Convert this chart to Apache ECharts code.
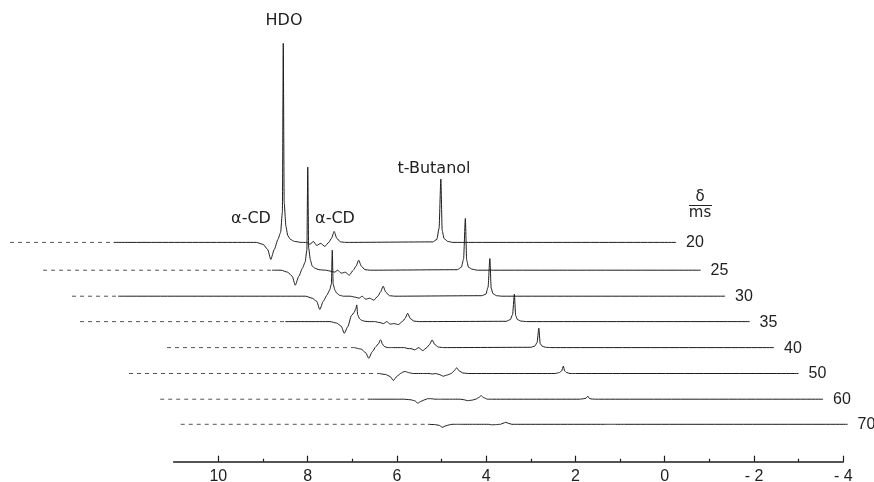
<!DOCTYPE html>
<html>
<head>
<meta charset="utf-8">
<script src="https://cdn.jsdelivr.net/npm/echarts@6/dist/echarts.min.js"></script>
<style>
  html, body { margin: 0; padding: 0; background: #ffffff; }
  #chart { width: 874px; height: 482px; }
</style>
</head>
<body>
<div id="chart"></div>
<script>
// Delay times (ms) of the stacked 1H spectra, front row last
const delays = ['20', '25', '30', '35', '40', '50', '60', '70'];

// Chemical shift (ppm) where each recorded trace begins
const startPpm = [10.92, 10.73, 10.63, 11.0, 9.6, 11.0, 10.85, 10.94];

// Chemical shift sample points (ppm) shared by all traces
const ppm = [5.40, 5.25, 5.15, 5.08, 5.00, 4.92, 4.86, 4.82, 4.80, 4.78,
             4.74, 4.70, 4.64, 4.55, 4.40, 4.28, 4.20, 4.13, 4.05, 3.96,
             3.87, 3.78, 3.72, 3.66, 3.60, 3.52, 3.40,
             1.45, 1.36, 1.31, 1.27, 1.24, 1.20, 1.12, 1.00,
             -4.0];

// Signal intensity (arbitrary units) at the sample points, one list per delay
const int20 = [0, -2, -7, -17, -7, 3, 10, 30, 199, 40,
               16, 7, 3, 1, 0, 0, -2, 1, -3, -1,
               -4, 0, 4, 11, 4, 0.5, 0,
               0.5, 3, 14, 63.4, 12, 4, 1, 0,
               0];
const int25 = [0, -2, -6, -15, -6, 2, 8, 20, 103, 22,
               10, 4, 2, 0.5, 0, -1, -2, 0, -3, -2,
               -5, 0, 4, 10, 4, 0.5, 0,
               0.5, 3, 11, 51.7, 10, 3, 1, 0,
               0];
const int30 = [0, -2, -5, -13.3, -5, 1, 6, 12, 46, 12,
               6, 3, 1, 0, 0, -1, -2, 0, -3, -2,
               -4, 0, 4, 10, 4, 0.5, 0,
               0.5, 2, 9, 37.7, 8, 2.5, 0.5, 0,
               0];
const int35 = [0, -1.5, -4.5, -11.7, -5, 6, 9, 13, 16.7, 7,
               3, 1.5, 0.5, 0, 0, -1, -2, 0, -2.5, -2,
               -3, 0, 3, 8.3, 3, 0.5, 0,
               0.3, 2, 7, 27.4, 6, 2, 0.5, 0,
               0];
const int40 = [0, -1.5, -5, -10.7, -4, 1, 4, 7.7, 7, 4,
               1.5, 0.5, 0, 0, 0, 0, -1, -1, -2.3, 0,
               -3, 0, 3, 7.7, 3, 0.5, 0,
               0.3, 1.5, 5, 19.4, 4, 1.5, 0.3, 0,
               0];
const int50 = [0, -1, -3, -7, -3, 0, 1.5, 2, 2, 1.5,
               1, 0.5, 0, 0, 0, 0, -0.5, 0, -1, -2.7,
               -1.5, 0, 2.5, 5.7, 2.5, 0.5, 0,
               0, 1, 2.5, 7.3, 2.5, 1, 0, 0,
               0];
const int60 = [0, -0.5, -1.5, -4, -2, -0.5, 0.5, 0.5, 0.5, 0.5,
               0.3, 0, 0, 0, 0, 0, 0, 0, -0.5, -1.5,
               -1, 0, 1.5, 3.5, 1.5, 0, 0,
               0, 0.5, 1, 3, 1, 0.3, 0, 0,
               0];
const int70 = [0, -0.3, -1, -3, -1.5, -0.5, 0, 0, 0, 0,
               0, 0, 0, 0, 0, 0, 0, 0, 0, -0.5,
               -0.3, 0, 1, 2, 1, 0, 0,
               0, 0, 0, 0, 0, 0, 0, 0,
               0];

// Shift scale tick values
const majorTicks = [10, 8, 6, 4, 2, 0, -2, -4];
const minorTicks = [9, 7, 5, 3, 1, -1, -3];

// ---- layout and style ----
const traces = [int20, int25, int30, int35, int40, int50, int60, int70];
const PPM_LO = -4, PPM_HI = 11;
const plotW = 669.6;                 // width of one spectrum (15 ppm)
const traceLeft0 = 6.5, traceStep = 24.5;
const baselines = [242.4, 270.2, 296.2, 321.6, 347.6, 373.5, 399.2, 424.3];
const yLo = -30, yHi = 220, plotH = 250;
// the faint, broken stretch of each recorder trace on the low-field side
const faintUntil = [8.6, 5.6, 9.6, 6.4, 5.4, 5.4, 6.2, 5.4];
const ink = '#1c1c1c';

const grids = [], xAxes = [], yAxes = [], series = [];

traces.forEach((vals, k) => {
  grids.push({
    left: traceLeft0 + k * traceStep,
    top: baselines[k] - yHi * plotH / (yHi - yLo),
    width: plotW, height: plotH,
    outerBoundsMode: 'none'
  });
  xAxes.push({ type: 'value', gridIndex: k, min: PPM_LO, max: PPM_HI, inverse: true, show: false });
  yAxes.push({ type: 'value', gridIndex: k, min: yLo, max: yHi, show: false });

  const pts = [[startPpm[k], 0]].concat(ppm.map((p, i) => [p, vals[i]]));
  const cut = faintUntil[k];
  const faint = pts.filter(d => d[0] >= cut).concat([[cut, 0]]);
  const solid = [[cut, 0]].concat(pts.filter(d => d[0] < cut));

  series.push({
    type: 'line', name: delays[k] + ' faint', xAxisIndex: k, yAxisIndex: k,
    data: faint, showSymbol: false, silent: true, clip: false, animation: false,
    lineStyle: { color: '#555', width: 1, type: [4, 4] }
  });
  series.push({
    type: 'line', name: delays[k], xAxisIndex: k, yAxisIndex: k,
    data: solid, showSymbol: false, silent: true, clip: false, animation: false,
    smooth: 0.2, smoothMonotone: 'x',
    lineStyle: { color: ink, width: 1 }
  });
});

// shift scale (major ticks with labels, minor ticks on a twin axis)
const axisGridIdx = traces.length;
const axisLeft = 173.7, axisY = 461.7;
[0, 1].forEach(j => {
  grids.push({ left: axisLeft, top: axisY - 20, width: plotW, height: 20, outerBoundsMode: 'none' });
  yAxes.push({ type: 'value', gridIndex: axisGridIdx + j, show: false, min: 0, max: 1 });
});
xAxes.push({
  type: 'value', gridIndex: axisGridIdx, min: PPM_LO, max: PPM_HI, inverse: true,
  position: 'bottom',
  axisLine: { show: true, lineStyle: { color: ink, width: 1.5 } },
  axisTick: { show: true, inside: true, length: 6, customValues: majorTicks,
              lineStyle: { color: ink, width: 1.2 } },
  axisLabel: { show: true, customValues: majorTicks, margin: 7,
               color: '#222', fontSize: 16, fontFamily: 'Liberation Sans, Arial, sans-serif',
               formatter: v => (v < 0 ? '- ' + Math.abs(v) : String(v)) },
  splitLine: { show: false }
});
xAxes.push({
  type: 'value', gridIndex: axisGridIdx + 1, min: PPM_LO, max: PPM_HI, inverse: true,
  position: 'bottom',
  axisLine: { show: false },
  axisTick: { show: true, inside: true, length: 3, customValues: minorTicks,
              lineStyle: { color: ink, width: 1.2 } },
  axisLabel: { show: false },
  splitLine: { show: false }
});

const chart = echarts.init(document.getElementById('chart'), null, { renderer: 'canvas' });
chart.setOption({
  backgroundColor: '#ffffff',
  animation: false,
  grid: grids, xAxis: xAxes, yAxis: yAxes, series: series
});

// text annotations
const wordFont = 'DejaVu Sans, Liberation Sans, sans-serif';
const numFont = 'Liberation Sans, Arial, sans-serif';
function txt(text, x, y, size, family, align) {
  return { type: 'text', x: x, y: y, silent: true, z: 10,
           style: { text: text, fill: '#222', fontSize: size, fontFamily: family,
                    align: align || 'center', verticalAlign: 'middle' } };
}
const graphics = [
  txt('HDO', 284, 21, 16, wordFont),
  txt('α-CD', 251, 219, 16, wordFont),
  txt('α-CD', 335, 219, 16, wordFont),
  txt('t-Butanol', 434, 169, 16, wordFont),
  txt('δ', 700, 197, 15, wordFont),
  { type: 'line', silent: true, shape: { x1: 689, y1: 205.5, x2: 712, y2: 205.5 },
    style: { stroke: '#222', lineWidth: 1 } },
  txt('ms', 700, 213, 15, wordFont)
];
// delay labels at the right end of each trace
traces.forEach((vals, k) => {
  const end = chart.convertToPixel({ gridIndex: k }, [PPM_LO, 0]);
  graphics.push(txt(delays[k], end[0] + 10, end[1] + 0.5, 16, numFont, 'left'));
});
chart.setOption({ graphic: graphics });
</script>
</body>
</html>
